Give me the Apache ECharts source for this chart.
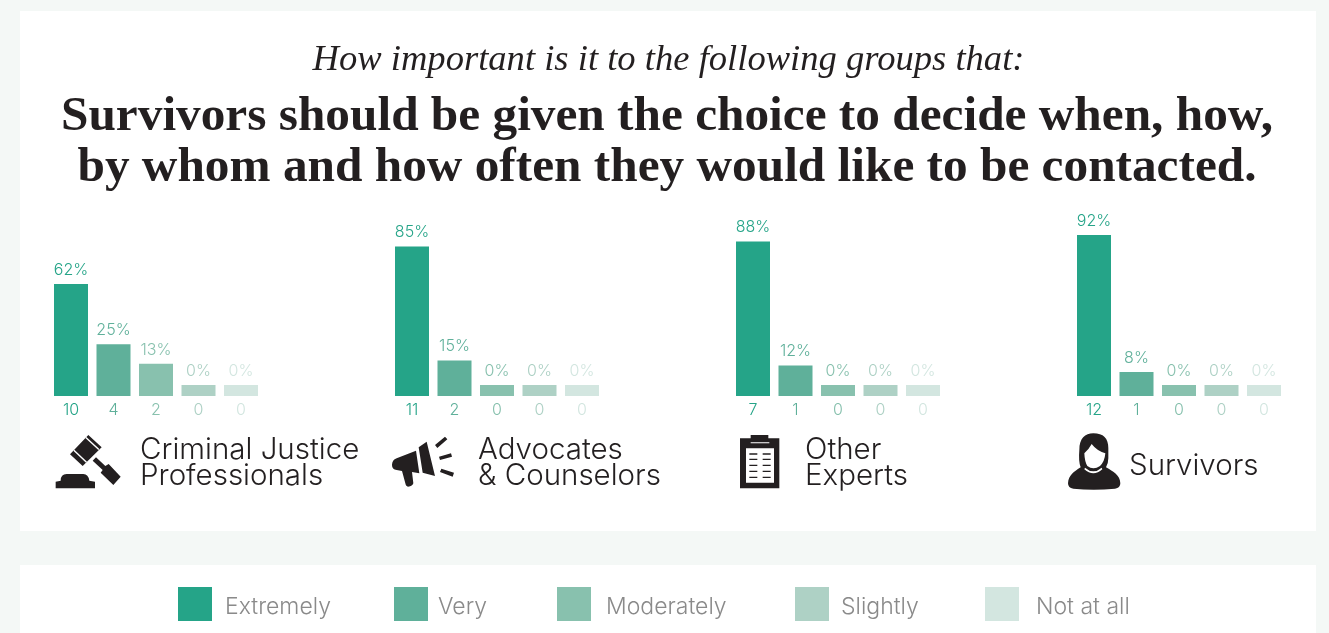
<!DOCTYPE html>
<html>
<head>
<meta charset="utf-8">
<style>
  html, body { margin: 0; padding: 0; background: #f4f8f6; }
  #chart { width: 1329px; height: 633px; }
</style>
<script src="https://cdn.jsdelivr.net/npm/echarts@6/dist/echarts.min.js"></script>
</head>
<body>
<div id="chart"></div>
<script>
// Survey results: importance ratings by respondent group
const levels = ['Extremely', 'Very', 'Moderately', 'Slightly', 'Not at all'];
const levelColors = ['#25a488', '#5fb09a', '#88c1ae', '#aed1c5', '#d3e6e0'];
const groupNames = ['Criminal Justice\nProfessionals', 'Advocates\n& Counselors', 'Other\nExperts', 'Survivors'];
const justicePct = [62, 25, 13, 0, 0];
const advocatePct = [85, 15, 0, 0, 0];
const expertPct = [88, 12, 0, 0, 0];
const survivorPct = [92, 8, 0, 0, 0];
const justiceCount = [10, 4, 2, 0, 0];
const advocateCount = [11, 2, 0, 0, 0];
const expertCount = [7, 1, 0, 0, 0];
const survivorCount = [12, 1, 0, 0, 0];

const pctByGroup = [justicePct, advocatePct, expertPct, survivorPct];
const countByGroup = [justiceCount, advocateCount, expertCount, survivorCount];

const sans = 'Inter, "Open Sans", sans-serif';
const serif = '"Liberation Serif", serif';
const ink = '#231f20';
const gridLefts = [49.75, 390.75, 731.75, 1072.75];
// Axis floor sits below zero so that empty answers still show a short stub.
const floorValue = -6.75;

const grids = gridLefts.map(left => ({ left, top: 222, width: 212.5, height: 174 }));

const xAxes = countByGroup.map((counts, g) => ({
  type: 'category',
  gridIndex: g,
  data: levels,
  axisLine: { show: false },
  axisTick: { show: false },
  axisLabel: {
    interval: 0,
    margin: 6,
    fontFamily: sans,
    fontWeight: 300,
    fontSize: 16,
    formatter: (v, i) => String(counts[i]),
    color: (v, i) => levelColors[i]
  }
}));

const yAxes = pctByGroup.map((_, g) => ({
  type: 'value',
  gridIndex: g,
  min: floorValue,
  max: 100,
  startValue: floorValue,
  show: false
}));

const series = [];
pctByGroup.forEach((values, g) => {
  levels.forEach((level, i) => {
    series.push({
      type: 'bar',
      name: level,
      xAxisIndex: g,
      yAxisIndex: g,
      barWidth: 34,
      barGap: '-100%',
      itemStyle: { color: levelColors[i] },
      label: {
        show: true,
        position: 'top',
        distance: 6,
        formatter: p => p.value + '%',
        color: levelColors[i],
        fontFamily: sans,
        fontWeight: 300,
        fontSize: 16
      },
      silent: true,
      data: levels.map((_, j) => (j === i ? values[j] : null))
    });
  });
});

// Legend entries are spaced individually along the bottom panel.
const legendLefts = [178, 394, 557, 795, 985];
const legendTextGaps = [8, 5, 10, 7, 12];
const legends = levels.map((level, i) => ({
  data: [level],
  left: legendLefts[i],
  top: 587,
  padding: 0,
  icon: 'rect',
  itemWidth: 34,
  itemHeight: 34,
  selectedMode: false,
  formatter: name => `{t|${name}}`,
  textStyle: {
    rich: {
      t: {
        color: '#8a8a8a',
        fontFamily: sans,
        fontWeight: 300,
        fontSize: 23,
        padding: [6, 0, 0, legendTextGaps[i]]
      }
    }
  }
}));

const titles = [
  {
    text: 'How important is it to the following groups that:',
    left: 668.5, top: 42, textAlign: 'center', padding: 0,
    textStyle: { fontFamily: serif, fontStyle: 'italic', fontWeight: 'normal', fontSize: 36.6, color: ink }
  },
  {
    text: 'Survivors should be given the choice to decide when, how,\nby whom and how often they would like to be contacted.',
    left: 667, top: 92, textAlign: 'center', padding: 0,
    textStyle: { fontFamily: serif, fontWeight: 'bold', fontSize: 49.3, lineHeight: 51, color: ink }
  }
];

// Panels
const panels = [
  { type: 'rect', shape: { x: 20, y: 11, width: 1296, height: 520 }, style: { fill: '#fff' }, z: -10, silent: true },
  { type: 'rect', shape: { x: 20, y: 565, width: 1296, height: 68 }, style: { fill: '#fff' }, z: -10, silent: true }
];

// Group name captions beside each icon
const captionPos = [[140, 463], [478, 463], [805, 463], [1129, 466]];
const captions = groupNames.map((name, g) => ({
  type: 'text',
  x: captionPos[g][0], y: captionPos[g][1],
  silent: true,
  style: {
    text: name, fill: ink, fontFamily: sans, fontWeight: 300, fontSize: 29.5, lineHeight: 26,
    verticalAlign: 'middle'
  }
}));

// Icons are authored at 3x and scaled down into place.
const icon = (name, x, y, fill, d) => {
  echarts.graphic.registerShape(name, echarts.graphic.extendPath(d));
  return { type: name, x, y, scaleX: 1 / 3, scaleY: 1 / 3, silent: true, style: { fill } };
};
const icons = [
  icon('gavelIcon', 30, 210, ink, 'M120 733 L175 675 L215 712 L158 768 Z M188 752 L198 742 L226 768 L236 762 L272 800 L250 825 L212 788 L218 780 Z M77 835 L77 815 L92 812 Q92 792 110 792 L160 792 Q175 792 178 812 L195 815 L195 835 Z'),
  icon('gavelBands', 30, 210, '#fff', 'M166 684 L169 681 L208 717 L205 720 Z M130 722 L133 719 L171 755 L168 758 Z'),
  icon('megaphoneIcon', 380, 420, ink, 'M36 135 Q36 120 50 115 L108 92 L118 160 L96 156 L100 190 Q98 199 84 200 Q78 200 76 190 L66 153 L50 150 Q36 148 36 135 Z M116 82 L140 65 L165 168 L128 158 Z M165 75 L195 50 L202 58 L172 84 Z M177 110 L213 100 L216 110 L180 120 Z M184 146 L222 158 L218 170 L180 156 Z'),
  icon('clipboardBack', 720, 420, ink, 'M60 55 L92 55 L92 45 L145 45 L145 55 L178 55 L178 205 L60 205 Z'),
  icon('clipboardSheet', 720, 420, '#fff', 'M78 85 L162 85 L162 188 L78 188 Z M92 67 L148 67 L148 70 L92 70 Z'),
  icon('clipboardLines', 720, 420, ink, 'M88 100 h24 v4 h-24 Z M128 100 h24 v4 h-24 Z M88 116 h24 v4 h-24 Z M128 116 h24 v4 h-24 Z M88 134 h24 v4 h-24 Z M128 134 h24 v4 h-24 Z M88 152 h24 v4 h-24 Z M128 152 h24 v4 h-24 Z M88 170 h24 v4 h-24 Z M128 170 h24 v4 h-24 Z'),
  icon('personBack', 1050, 420, ink, 'M130 40 C160 40 175 55 175 85 L175 115 Q175 130 168 142 C190 155 210 165 211 190 Q211 204 195 206 Q130 212 70 206 Q54 204 54 190 C56 165 72 155 92 142 Q85 125 88 90 C88 55 105 40 130 40 Z'),
  icon('personFace', 1050, 420, '#fff', 'M103 100 Q115 90 125 72 Q140 92 166 100 Q164 125 150 138 Q130 152 112 138 Q104 125 103 100 Z M105 143 Q130 165 155 143 L157 148 Q130 172 103 148 Z')
];

const chart = echarts.init(document.getElementById('chart'));
chart.setOption({
  animation: false,
  backgroundColor: '#f4f8f6',
  title: titles,
  legend: legends,
  grid: grids,
  xAxis: xAxes,
  yAxis: yAxes,
  series,
  graphic: { elements: [...panels, ...captions, ...icons] }
});
</script>
</body>
</html>
